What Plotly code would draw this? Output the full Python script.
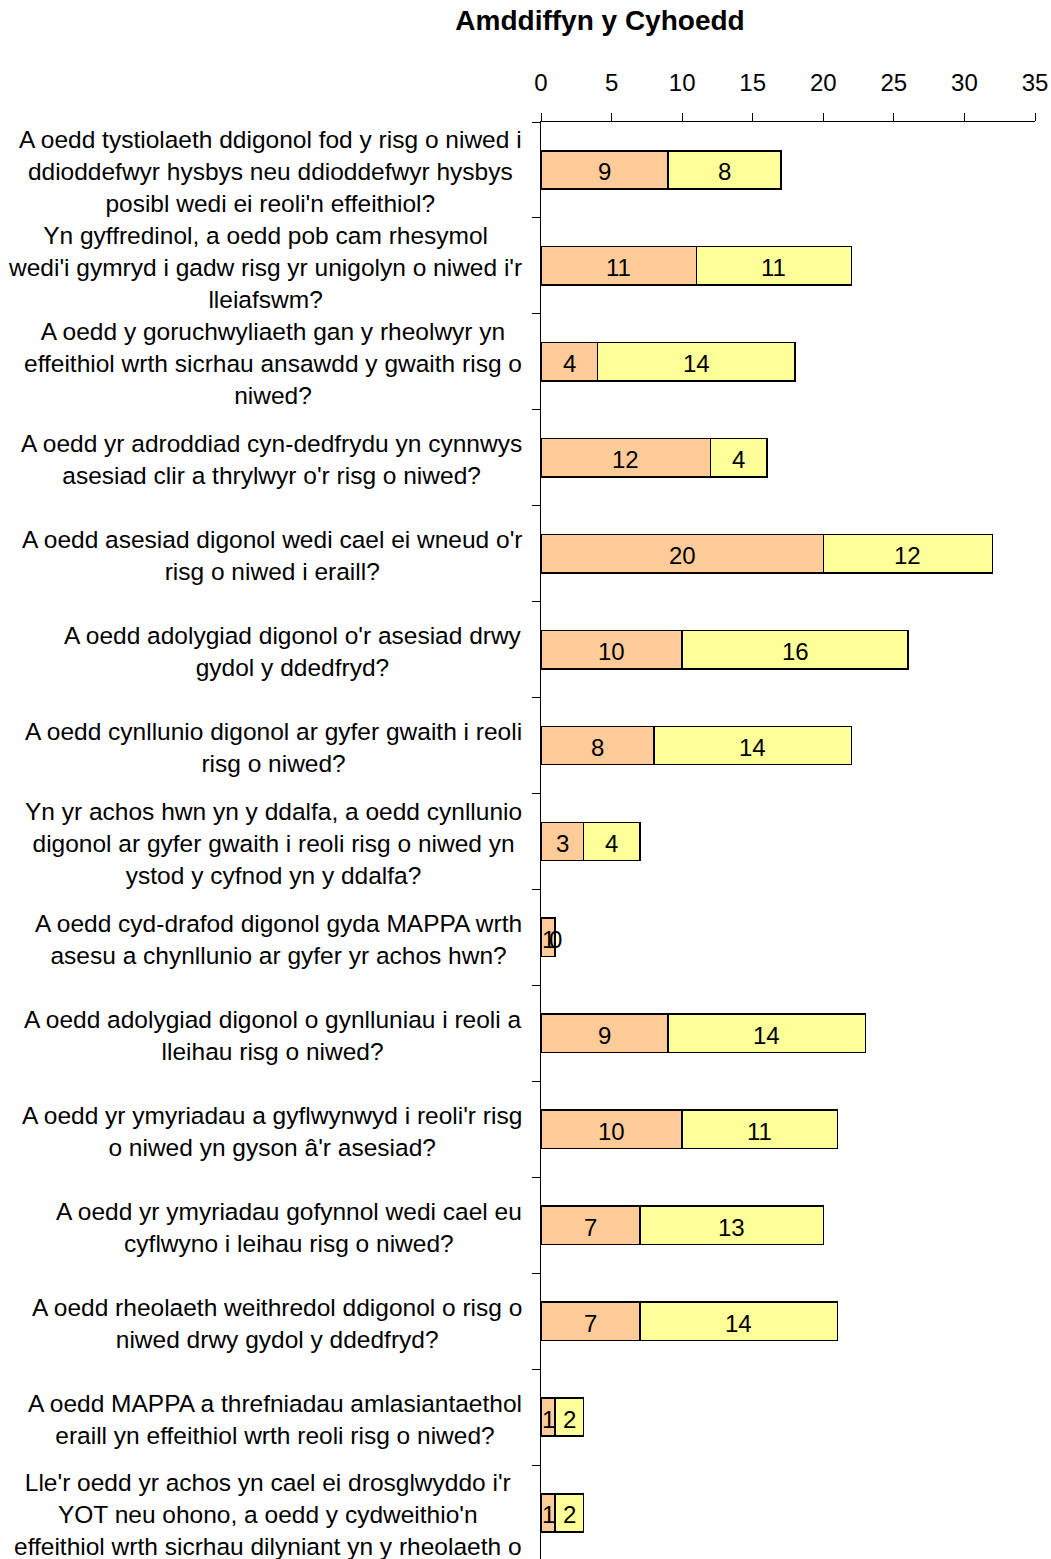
import plotly.graph_objects as go
import numpy as np

title = "Amddiffyn y Cyhoedd"

labels = [
    ["A oedd tystiolaeth ddigonol fod y risg o niwed i", "ddioddefwyr hysbys neu ddioddefwyr hysbys", "posibl wedi ei reoli'n effeithiol?"],
    ["Yn gyffredinol, a oedd pob cam rhesymol", "wedi'i gymryd i gadw risg yr unigolyn o niwed i'r", "lleiafswm?"],
    ["A oedd y goruchwyliaeth gan y rheolwyr yn", "effeithiol wrth sicrhau ansawdd y gwaith risg o", "niwed?"],
    ["A oedd yr adroddiad cyn-dedfrydu yn cynnwys", "asesiad clir a thrylwyr o'r risg o niwed?"],
    ["A oedd asesiad digonol wedi cael ei wneud o'r", "risg o niwed i eraill?"],
    ["A oedd adolygiad digonol o'r asesiad drwy", "gydol y ddedfryd?"],
    ["A oedd cynllunio digonol ar gyfer gwaith i reoli", "risg o niwed?"],
    ["Yn yr achos hwn yn y ddalfa, a oedd cynllunio", "digonol ar gyfer gwaith i reoli risg o niwed yn", "ystod y cyfnod yn y ddalfa?"],
    ["A oedd cyd-drafod digonol gyda MAPPA wrth", "asesu a chynllunio ar gyfer yr achos hwn?"],
    ["A oedd adolygiad digonol o gynlluniau i reoli a", "lleihau risg o niwed?"],
    ["A oedd yr ymyriadau a gyflwynwyd i reoli'r risg", "o niwed yn gyson â'r asesiad?"],
    ["A oedd yr ymyriadau gofynnol wedi cael eu", "cyflwyno i leihau risg o niwed?"],
    ["A oedd rheolaeth weithredol ddigonol o risg o", "niwed drwy gydol y ddedfryd?"],
    ["A oedd MAPPA a threfniadau amlasiantaethol", "eraill yn effeithiol wrth reoli risg o niwed?"],
    ["Lle'r oedd yr achos yn cael ei drosglwyddo i'r", "YOT neu ohono, a oedd y cydweithio'n", "effeithiol wrth sicrhau dilyniant yn y rheolaeth o"],
]

orange_vals = [9, 11, 4, 12, 20, 10, 8, 3, 1, 9, 10, 7, 7, 1, 1]
yellow_vals = [8, 11, 14, 4, 12, 16, 14, 4, 0, 14, 11, 13, 14, 2, 2]

x_ticks = [0, 5, 10, 15, 20, 25, 30, 35]

cats = ["<br>".join(l) for l in labels]
o = np.array(orange_vals, dtype=float)
yv = np.array(yellow_vals, dtype=float)

FONT = "Liberation Sans"
FS_LAB = 24.5
FS_NUM = 24

fig = go.Figure()
fig.add_trace(go.Bar(y=cats, x=orange_vals, orientation="h", width=0.4,
                     marker=dict(color="#FFCC99", line=dict(color="black", width=1.5)),
                     hoverinfo="skip"))
fig.add_trace(go.Bar(y=cats, x=yellow_vals, orientation="h", width=0.4,
                     marker=dict(color="#FFFF99", line=dict(color="black", width=1.5)),
                     hoverinfo="skip"))

annotations = []
# value labels centred in each segment
for c, xo, xy, vo, vy in zip(cats, o / 2, o + yv / 2, orange_vals, yellow_vals):
    for xx, vv in ((xo, vo), (xy, vy)):
        annotations.append(dict(
            x=xx, xref="x", y=c, yref="y", yshift=-2,
            xanchor="center", yanchor="middle", text=str(vv), showarrow=False,
            font=dict(family=FONT, size=FS_NUM, color="black")))

# category labels
for c in cats:
    annotations.append(dict(
        x=0, xref="paper", xshift=-17, xanchor="right",
        y=c, yref="y", yshift=-2, yanchor="middle",
        text=c, showarrow=False, align="center",
        font=dict(family=FONT, size=FS_LAB, color="black")))

W, H = 1051, 1559
top = 122
pitch = 95.93
ybottom = -0.5 + (H - top) / pitch

fig.update_layout(
    width=W, height=H,
    margin=dict(l=541, r=16, t=top, b=0, pad=0),
    paper_bgcolor="white", plot_bgcolor="white",
    showlegend=False, barmode="stack", bargap=0.6,
    title=dict(text="<b>" + title + "</b>", x=600 / W, xanchor="center",
               y=1 - 20 / H, yanchor="middle", yref="container",
               font=dict(family=FONT, size=28, color="black")),
    xaxis=dict(side="top", range=[0, 35], tickvals=x_ticks, ticktext=[str(t) for t in x_ticks],
               showgrid=False, zeroline=False, showline=True, linecolor="black", linewidth=1,
               ticks="outside", ticklen=8, tickcolor="black", tickwidth=1,
               ticklabelstandoff=12,
               tickfont=dict(family=FONT, size=FS_NUM, color="black")),
    yaxis=dict(type="category", categoryorder="array", categoryarray=cats,
               range=[ybottom, -0.5], showgrid=False, zeroline=False,
               showline=True, linecolor="black", linewidth=1,
               ticks="outside", ticklen=8, tickcolor="black", tickson="boundaries",
               showticklabels=False),
    annotations=annotations,
)

fig.write_html("out.html", config={"displayModeBar": False},
               post_script="document.body.style.margin='0px';")
